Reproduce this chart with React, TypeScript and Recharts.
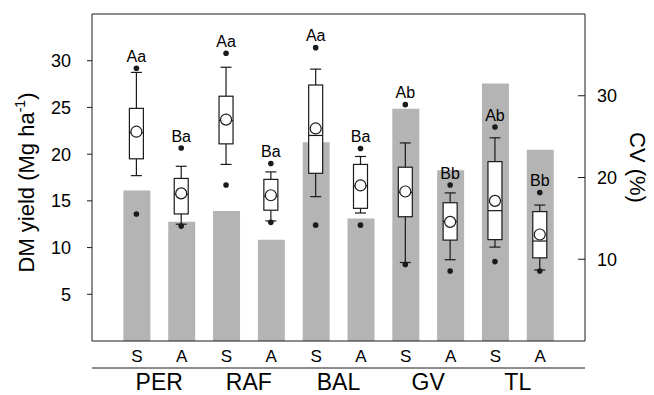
import React from 'react';
import { ComposedChart, Bar, XAxis, YAxis, ReferenceLine } from 'recharts';

const FONT = '"Liberation Sans", Arial, Helvetica, sans-serif';
const INK = '#1a1a1a';
const HALF_BAND = 22.4;

// farms and systems (S / A)
const groups = ['PER', 'RAF', 'BAL', 'GV', 'TL'];
const systems = ['S', 'A', 'S', 'A', 'S', 'A', 'S', 'A', 'S', 'A'];
const letters = ['Aa', 'Ba', 'Aa', 'Ba', 'Aa', 'Ba', 'Ab', 'Bb', 'Ab', 'Bb'];

// CV (%) - grey bars, right axis
const cv = [18.4, 14.6, 15.9, 12.4, 24.3, 15.0, 28.4, 20.9, 31.5, 23.4];

// DM yield (Mg ha-1) box plots, left axis
const p5 = [13.6, 12.3, 16.7, 12.7, 12.4, 12.4, 8.2, 7.5, 8.5, 7.5];
const whiskLo = [17.7, 12.5, 18.9, 12.85, 15.45, 13.7, 8.4, 8.7, 10.05, 7.6];
const q1 = [19.5, 13.6, 21.1, 14.0, 17.95, 14.2, 13.3, 10.8, 10.85, 8.9];
const median = [22.3, 15.7, 23.6, 15.5, 22.0, 16.6, 15.9, 12.8, 13.95, 10.7];
const mean = [22.4, 15.8, 23.7, 15.6, 22.75, 16.65, 16.0, 12.75, 15.0, 11.4];
const q3 = [24.9, 17.4, 26.2, 17.3, 27.4, 18.9, 18.6, 14.8, 19.2, 13.85];
const whiskHi = [28.75, 18.7, 29.3, 18.1, 29.1, 19.75, 21.2, 15.85, 21.75, 14.55];
const p95 = [29.2, 20.65, 30.8, 19.0, 31.4, 20.6, 25.3, 16.7, 22.9, 15.9];

const yieldTicks = [5, 10, 15, 20, 25, 30];
const cvTicks = [10, 20, 30];

const data = systems.map((s, i) => ({
  id: `${groups[Math.floor(i / 2)]}-${s}`,
  idx: i,
  cv: cv[i],
  range: [p5[i], p95[i]],
}));

function BoxShape(props: any) {
  const { x, y, width, height, payload } = props;
  const i = payload.idx;
  const lo = p5[i];
  const hi = p95[i];
  const top = Math.min(y, y + height);
  const bot = Math.max(y, y + height);
  const toY = (v: number) => top + ((bot - top) * (hi - v)) / (hi - lo);
  const cx = x + width / 2;
  const cap = 5.5;
  return (
    <g stroke={INK} strokeWidth={1.2}>
      <line x1={cx} x2={cx} y1={toY(whiskHi[i])} y2={toY(q3[i])} />
      <line x1={cx} x2={cx} y1={toY(q1[i])} y2={toY(whiskLo[i])} />
      <line x1={cx - cap} x2={cx + cap} y1={toY(whiskHi[i])} y2={toY(whiskHi[i])} />
      <line x1={cx - cap} x2={cx + cap} y1={toY(whiskLo[i])} y2={toY(whiskLo[i])} />
      <rect x={x} y={toY(q3[i])} width={width} height={toY(q1[i]) - toY(q3[i])} fill="#fff" />
      <line x1={x} x2={x + width} y1={toY(median[i])} y2={toY(median[i])} />
      <circle cx={cx} cy={toY(mean[i])} r={5.5} fill="#fff" />
      <circle cx={cx} cy={toY(p95[i])} r={2.8} fill={INK} stroke="none" />
      <circle cx={cx} cy={toY(p5[i])} r={2.8} fill={INK} stroke="none" />
      <text
        x={cx}
        y={toY(p95[i]) - 12}
        dy="0.36em"
        textAnchor="middle"
        fontSize={16}
        fontFamily={FONT}
        fill="#000"
        stroke="none"
      >
        {letters[i]}
      </text>
    </g>
  );
}

// farm name sits between its S and A ticks
function GroupTick(props: any) {
  const { x, y, index } = props;
  if (index % 2 !== 0) return <g />;
  return (
    <text
      x={x + HALF_BAND}
      y={y}
      dy="0.71em"
      textAnchor="middle"
      fontSize={23}
      fontFamily={FONT}
      fill="#000"
    >
      {groups[index / 2]}
    </text>
  );
}

function YieldLabel(props: any) {
  const vb = props.viewBox || { x: 0, y: 14, width: 92, height: 327 };
  const cy = vb.y + vb.height / 2 + 5;
  const bx = 34;
  return (
    <text
      x={bx}
      y={cy}
      transform={`rotate(-90, ${bx}, ${cy})`}
      textAnchor="middle"
      fontSize={22}
      fontFamily={FONT}
      fill="#000"
    >
      DM yield (Mg ha
      <tspan dy={-9} fontSize={14}>-1</tspan>
      <tspan dy={9}>)</tspan>
    </text>
  );
}

function CvLabel(props: any) {
  const vb = props.viewBox || { x: 585, y: 14, width: 69, height: 327 };
  const cy = vb.y + vb.height / 2 - 10;
  const bx = 630;
  return (
    <text
      x={bx}
      y={cy}
      transform={`rotate(90, ${bx}, ${cy})`}
      textAnchor="middle"
      fontSize={22}
      fontFamily={FONT}
      fill="#000"
    >
      CV (%)
    </text>
  );
}

export default function App() {
  const tickStyle = { fontSize: 18, fill: '#000', fontFamily: FONT };
  return (
    <div style={{ position: 'absolute', left: 0, top: 0, background: '#fff' }}>
      <ComposedChart
        width={654}
        height={395}
        data={data}
        margin={{ top: 14, right: 0, bottom: 0, left: 0 }}
      >
        {/* axis ids sort in stacking order: a = S/A row, b = farm row, c = hidden box axis */}
        <XAxis
          xAxisId="a"
          dataKey="id"
          padding={{ left: HALF_BAND, right: HALF_BAND }}
          height={27}
          tickLine={false}
          tickSize={6}
          tickMargin={3}
          axisLine={{ stroke: INK }}
          tick={{ fontSize: 17, fill: '#000', fontFamily: FONT }}
          tickFormatter={(_v: any, i: number) => systems[i]}
          interval={0}
        />
        <XAxis
          xAxisId="b"
          dataKey="id"
          padding={{ left: HALF_BAND, right: HALF_BAND }}
          height={27}
          tickLine={false}
          tickSize={0}
          tickMargin={6}
          axisLine={{ stroke: INK }}
          tick={<GroupTick />}
          interval={0}
        />
        <XAxis
          xAxisId="c"
          dataKey="id"
          padding={{ left: HALF_BAND, right: HALF_BAND }}
          hide
        />
        <YAxis
          yAxisId="yield"
          orientation="left"
          width={92}
          domain={[0, 35]}
          ticks={yieldTicks}
          tickSize={5}
          tickMargin={16}
          axisLine={{ stroke: INK }}
          tickLine={{ stroke: INK }}
          tick={tickStyle}
          label={<YieldLabel />}
        />
        <YAxis
          yAxisId="cv"
          orientation="right"
          width={69}
          domain={[0, 40]}
          ticks={cvTicks}
          tickSize={-7}
          tickMargin={19}
          axisLine={{ stroke: INK }}
          tickLine={{ stroke: INK }}
          tick={{ ...tickStyle, textAnchor: 'start' }}
          label={<CvLabel />}
        />
        <ReferenceLine y={35} yAxisId="yield" xAxisId="a" stroke={INK} />
        <Bar
          dataKey="cv"
          xAxisId="a"
          yAxisId="cv"
          barSize={27}
          fill="#b4b4b4"
          isAnimationActive={false}
        />
        <Bar
          dataKey="range"
          xAxisId="c"
          yAxisId="yield"
          barSize={14}
          shape={<BoxShape />}
          isAnimationActive={false}
        />
      </ComposedChart>
    </div>
  );
}
